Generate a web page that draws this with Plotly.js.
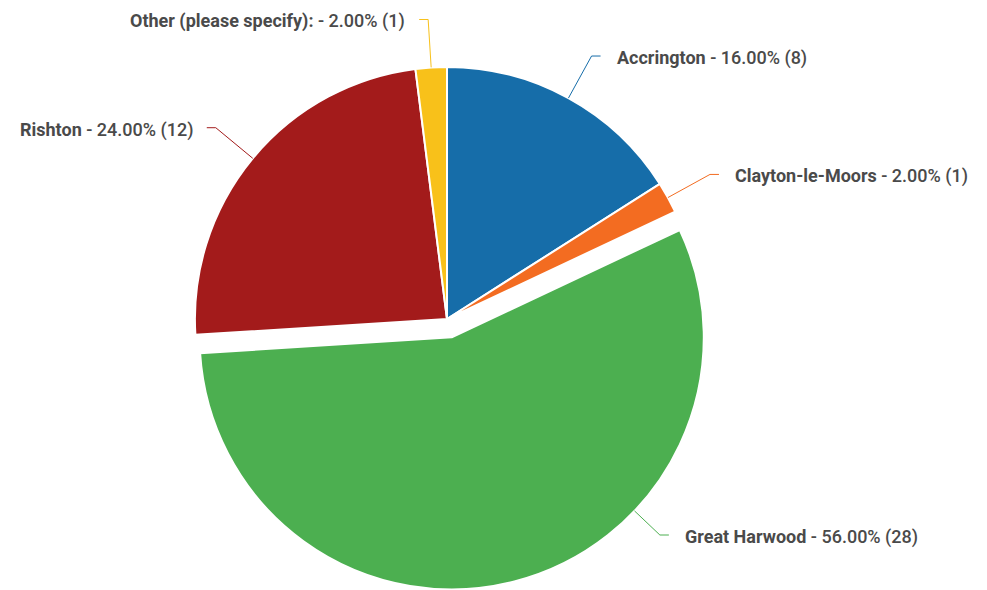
<!DOCTYPE html>
<html>
<head>
<meta charset="utf-8">
<script src="https://cdn.plot.ly/plotly-3.0.1.min.js"></script>
<style>html,body{margin:0;padding:0;background:#fff;overflow:hidden;}#chart{width:987px;height:590px;}</style>
</head>
<body>
<div id="chart"></div>
<script>
// ---- data ----
const labels = ['Accrington', 'Clayton-le-Moors', 'Great Harwood', 'Rishton', 'Other (please specify):'];
const counts = [8, 1, 28, 12, 1];
const percents = [16.00, 2.00, 56.00, 24.00, 2.00];
const colors = ['#166da9', '#f36c21', '#4caf50', '#a31b1b', '#f8c11a'];
const pulls = [0, 0, 0.075, 0, 0];

// ---- layout geometry ----
const W = 987, H = 590;
const M = {t: 48, b: 0, l: 0, r: 0};
const plotW = W - M.l - M.r, plotH = H - M.t - M.b;
const domX = [0, 894 / 987];
const maxPull = Math.max.apply(null, pulls);
const R0 = plotH / (2 * (1 + maxPull));
const cx = M.l + plotW * (domX[0] + domX[1]) / 2;
const cy = M.t + plotH / 2;

const px2x = x => (x - M.l) / plotW;
const px2y = y => (H - M.b - y) / plotH;

const total = counts.reduce((a, b) => a + b, 0);
const shapes = [], annotations = [];
const yLimit = H - 55;
let cum = 0;
counts.forEach((v, i) => {
  const midDeg = (cum + v / 2) / total * 360;
  cum += v;
  const mid = midDeg * Math.PI / 180;
  const pcx = cx + pulls[i] * R0 * Math.sin(mid);
  const pcy = cy - pulls[i] * R0 * Math.cos(mid);
  let Rl = R0 + 48;
  let th = mid;
  if (pcy - Rl * Math.cos(mid) > yLimit) {
    Rl = R0 + 35;
    const a = Math.acos((pcy - yLimit) / Rl);
    th = Math.sin(mid) >= 0 ? a : 2 * Math.PI - a;
  }
  const right = Math.sin(th) >= 0;
  const sx = pcx + R0 * Math.sin(th), sy = pcy - R0 * Math.cos(th);
  const ex = pcx + Rl * Math.sin(th), ey = pcy - Rl * Math.cos(th);
  const hx = ex + (right ? 9 : -9);
  shapes.push({
    type: 'path', xref: 'paper', yref: 'paper',
    path: `M ${px2x(sx)} ${px2y(sy)} L ${px2x(ex)} ${px2y(ey)} L ${px2x(hx)} ${px2y(ey)}`,
    line: {color: colors[i], width: 1}
  });
  annotations.push({
    xref: 'paper', yref: 'paper',
    x: px2x(hx + (right ? 14 : -12)), y: px2y(ey + 2),
    xanchor: right ? 'left' : 'right', yanchor: 'middle',
    showarrow: false,
    text: `<b>${labels[i]}</b> - ${percents[i].toFixed(2)}% (${counts[i]})`,
    font: {family: 'Roboto, sans-serif', size: 18, weight: 500, color: '#4a4a4a'}
  });
});

const trace = {
  type: 'pie',
  labels: labels,
  values: counts,
  sort: false,
  direction: 'clockwise',
  rotation: 0,
  pull: pulls,
  marker: {colors: colors, line: {color: '#ffffff', width: 2}},
  textinfo: 'none',
  hoverinfo: 'label+percent+value',
  domain: {x: domX, y: [0, 1]},
  showlegend: false
};

Plotly.newPlot('chart', [trace], {
  width: W, height: H,
  margin: M,
  paper_bgcolor: '#ffffff',
  showlegend: false,
  shapes: shapes,
  annotations: annotations
}, {displayModeBar: false, staticPlot: true});
</script>
</body>
</html>
